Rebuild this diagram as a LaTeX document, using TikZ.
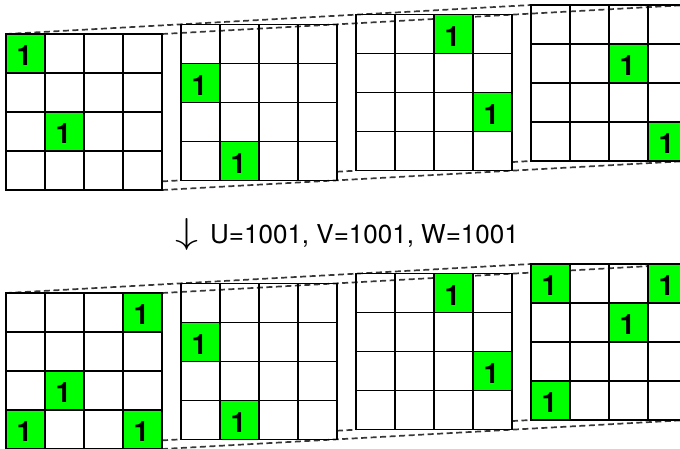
\documentclass[tikz,border=0pt]{standalone}
\usepackage{fontspec}
\setmainfont{TeX Gyre Heros}
\usetikzlibrary{calc}
\definecolor{cellgreen}{RGB}{0,255,0}
\definecolor{dashgray}{RGB}{55,55,55}
\tikzset{
  gridline/.style={line width=1.3pt, draw=black, line cap=rect},
  connline/.style={dash pattern=on 6pt off 3.5pt, line width=1.7pt, draw=dashgray},
  onelabel/.style={font=\bfseries\fontsize{28}{28}\selectfont, inner sep=0pt},
  captext/.style={font=\fontsize{26}{26}\selectfont, inner sep=0pt},
}
\begin{document}
\begin{tikzpicture}[x=1pt,y=-1pt]
\useasboundingbox (0,0) rectangle (680,448);
\clip (0,0) rectangle (680,448);
% corners of the slices
\foreach \r/\off in {a/0, b/259} {
  \foreach \k in {0,...,3} {
    \pgfmathsetmacro\gx{6+175*\k}
    \pgfmathsetmacro\gy{34-9.667*\k+\off}
    \coordinate (\r TL\k) at (\gx,\gy);
    \coordinate (\r TR\k) at (\gx+156,\gy);
    \coordinate (\r BL\k) at (\gx,\gy+156);
    \coordinate (\r BR\k) at (\gx+156,\gy+156);
  }
}
% dashed perspective lines
\foreach \r in {a,b} {
  \draw[connline] (\r TL0) -- (\r TL3);
  \draw[connline] (\r TR0) -- (\r TR3);
  \draw[connline] (\r BR0) -- (\r BR3);
  \foreach \k/\n in {0/1,1/2,2/3} {
    \draw[connline] ($(\r BL\k)!156/175!(\r BL\n)$) -- (\r BL\n);
  }
}
% green cells with 1
\foreach \r/\k/\row/\col in {a/0/1/1, a/0/3/2, a/1/2/1, a/1/4/2, a/2/1/3, a/2/3/4, a/3/2/3, a/3/4/4,
  b/0/1/4, b/0/3/2, b/0/4/1, b/0/4/4, b/1/2/1, b/1/4/2, b/2/1/3, b/2/3/4, b/3/1/1, b/3/1/4, b/3/2/3, b/3/4/1} {
  \fill[cellgreen] ($(\r TL\k)+(39*\col-39,39*\row-39)$) rectangle ++(39,39);
  \node[onelabel] (\r one\k\row\col) at ($(\r TL\k)+(39*\col-20.5,39*\row-17)$) {1};
}
% grid lines
\foreach \r in {a,b} {
  \foreach \k in {0,...,3} {
    \foreach \i in {0,...,4} {
      \draw[gridline] ($(\r TL\k)+(39*\i,0)$) -- ++(0,156);
      \draw[gridline] ($(\r TL\k)+(0,39*\i)$) -- ++(156,0);
    }
  }
}
% caption
\node (arrow) at (186.5,234.5) {\resizebox{23pt}{25pt}{$\downarrow$}};
\node[captext, anchor=base west] (cap) at (210,243) {U=1001, V=1001, W=1001};
\end{tikzpicture}
\end{document}
